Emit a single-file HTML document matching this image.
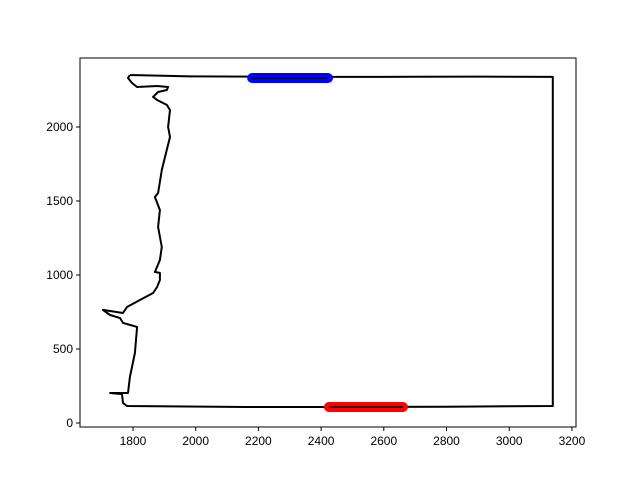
<!DOCTYPE html>
<html><head><meta charset="utf-8"><style>
body{margin:0;background:#fff;}
svg text{font-family:"Liberation Sans","DejaVu Sans",sans-serif;font-size:12px;fill:#000;}
</style></head><body>
<svg id="chart" width="640" height="480" xmlns="http://www.w3.org/2000/svg">
<rect width="640" height="480" fill="#fff"/>
<g id="plot"></g>
<g id="axes"></g>
</svg>
<script>
const pathX=[1790,1784,1797,1813,1877,1912,1908,1880,1864,1877,1908,1918,1912,1918,1902,1892,1880,1870,1886,1880,1892,1886,1870,1886,1886,1877,1864,1822,1781,1768,1704,1727,1759,1768,1813,1806,1790,1784,1774,1727,1765,1768,1781,2160,2500,2800,3139,3139,2900,2700,2400,1982,1790];
const pathY=[2351,2331,2297,2270,2277,2270,2250,2236,2203,2182,2149,2115,2000,1932,1797,1709,1554,1527,1439,1324,1189,1101,1020,1014,966,919,878,831,784,743,764,730,709,676,649,473,311,203,203,203,195,135,115,108,108,110,115,2338,2340,2339,2338,2342,2351];
const blueX=[2180,2422], blueY=[2331,2331];
const redX=[2425,2661], redY=[108,108];
const xTicks=[1800,2000,2200,2400,2600,2800,3000,3200];
const yTicks=[0,500,1000,1500,2000];
const L=80,R=576,T=58,B=427;
const xmin=1631,xmax=3213,ymin=-27,ymax=2466;
const sx=v=>L+(v-xmin)/(xmax-xmin)*(R-L);
const sy=v=>B-(v-ymin)/(ymax-ymin)*(B-T);
const NS="http://www.w3.org/2000/svg";
const plot=document.getElementById('plot'),axes=document.getElementById('axes');
function mk(tag,attrs,parent){const e=document.createElementNS(NS,tag);for(const k in attrs)e.setAttribute(k,attrs[k]);parent.appendChild(e);return e;}
let d=pathX.map((x,i)=>(i?'L':'M')+sx(x).toFixed(1)+','+sy(pathY[i]).toFixed(1)).join(' ');
const p=mk('path',{d:d,fill:'none',stroke:'#000','stroke-width':2,'stroke-linejoin':'round'},plot);


const b=mk('line',{x1:sx(blueX[0]),y1:sy(blueY[0]),x2:sx(blueX[1]),y2:sy(blueY[1]),stroke:'#0000ff','stroke-width':10,'stroke-linecap':'round'},plot);


const r=mk('line',{x1:sx(redX[0]),y1:sy(redY[0]),x2:sx(redX[1]),y2:sy(redY[1]),stroke:'#ff0000','stroke-width':10,'stroke-linecap':'round'},plot);


const bl=mk('line',{x1:sx(blueX[0]),y1:sy(blueY[0]),x2:sx(blueX[1]),y2:sy(blueY[1]),stroke:'#000','stroke-width':1.5},plot);


const rl=mk('line',{x1:sx(redX[0]),y1:sy(redY[0]),x2:sx(redX[1]),y2:sy(redY[1]),stroke:'#000','stroke-width':1.5},plot);


const fr=mk('rect',{x:L,y:T,width:R-L,height:B-T,fill:'none',stroke:'#000','stroke-width':1},axes);


xTicks.forEach(v=>{const x=sx(v);
 const t=mk('line',{x1:x,y1:B,x2:x,y2:B+4,stroke:'#000'},axes);
 
 
 const tx=mk('text',{x:x,y:B+18,'text-anchor':'middle'},axes);tx.textContent=v;
 
 });
yTicks.forEach(v=>{const y=sy(v);
 const t=mk('line',{x1:L-4,y1:y,x2:L,y2:y,stroke:'#000'},axes);
 
 
 const tx=mk('text',{x:L-7,y:y+4,'text-anchor':'end'},axes);tx.textContent=v;
 
 });
</script>
</body></html>
